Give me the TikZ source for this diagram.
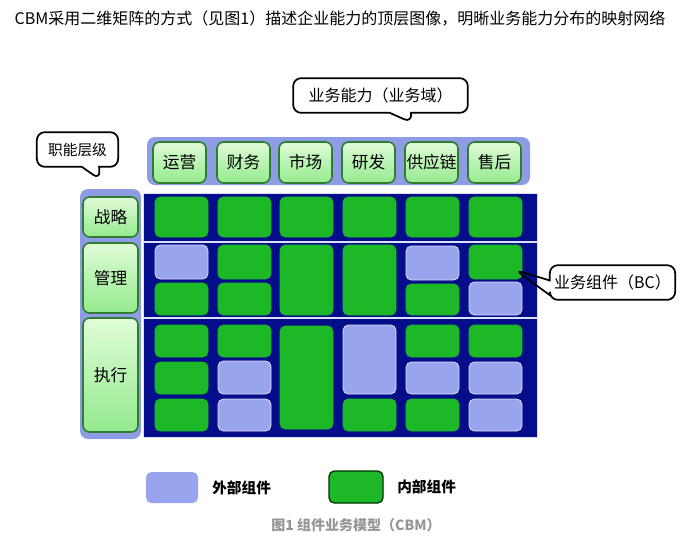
\documentclass[tikz,border=0pt]{standalone}
\usepackage{fontspec}
\setmainfont{Noto Sans CJK SC}
\usepackage{tikz}
\usetikzlibrary{shapes.callouts,positioning}

\definecolor{navy}{RGB}{4,14,138}
\definecolor{ingreen}{RGB}{28,184,40}
\definecolor{outlav}{RGB}{152,164,238}
\definecolor{bandlav}{RGB}{142,156,228}
\definecolor{hdtop}{RGB}{224,252,216}
\definecolor{hdbot}{RGB}{148,234,142}
\definecolor{hdline}{RGB}{46,125,50}
\definecolor{capgray}{RGB}{150,150,150}
\colorlet{ingreenline}{ingreen}
\colorlet{outlavline}{white!65!outlav}

% box from pixel corners: name, options, x1, y1, x2, y2, text
\newcommand{\cellbox}[7]{%
  \pgfmathsetmacro{\cw}{(#5-#3)*0.75}%
  \pgfmathsetmacro{\ch}{(#6-#4)*0.75}%
  \node[#2, minimum width=\cw pt, minimum height=\ch pt] (#1) at ({(#3+#5)/2},{(#4+#6)/2}) {#7};%
}

\begin{document}
\begin{tikzpicture}[
    x=0.75pt, y=-0.75pt,
    cell/.style={rectangle, rounded corners=4pt, inner sep=0pt, outer sep=0pt, fill=#1, draw=#1line, line width=0.6pt},
    band/.style={rectangle, rounded corners=6pt, inner sep=0pt, fill=bandlav},
    headbox/.style={rectangle, rounded corners=5pt, inner sep=0pt, draw=hdline, line width=1.2pt, top color=hdtop, bottom color=hdbot, font=\fontsize{12.5}{14}\selectfont},
    callbox/.style={rectangle callout, rounded corners=6pt, draw=black, line width=1.3pt, fill=white, inner sep=0pt, font=\fontsize{12}{14}\selectfont},
    legtext/.style={inner sep=0pt, font=\fontsize{11}{13}\selectfont\bfseries},
    sepline/.style={draw=outlavline, line width=0.8pt}
]
\useasboundingbox (0,0) rectangle (680,540);

% Title
\node[font=\fontsize{12}{14}\selectfont] (title) at (340,19) {CBM采用二维矩阵的方式（见图1）描述企业能力的顶层图像，明晰业务能力分布的映射网络};

% Bands and matrix
\cellbox{headband}{band}{147}{137}{530}{185}{}
\cellbox{rowband}{band}{80}{189}{141}{439}{}
\cellbox{mat}{rectangle, inner sep=0pt, fill=navy, draw=outlavline, line width=0.6pt}{143}{193}{537}{437}{}
\draw[sepline] (143,242) -- (537,242);
\draw[sepline] (143,318) -- (537,318);

% Capability headers
\foreach \x/\t [count=\i] in {153/运营, 217/财务, 279/市场, 342/研发, 405/供应链, 468/售后}
  \cellbox{h\i}{headbox}{\x}{142}{\x+53}{183}{\t};

% Level labels
\cellbox{lvS}{headbox}{83}{197}{138}{237}{战略}
\cellbox{lvM}{headbox}{83}{243}{138}{313}{管理}
\cellbox{lvE}{headbox}{83}{318}{138}{432}{执行}

% Strategy row
\foreach \x [count=\i] in {155,218,280,343,406,469}
  \cellbox{s\i}{cell=ingreen}{\x}{197}{\x+53}{237}{};

% Management and execution rows
\foreach \n/\c/\xa/\ya/\xb/\yb in {
    m1a/outlav/155/245/208/279, m1b/ingreen/155/283/208/315,
    m2a/ingreen/218/245/271/279, m2b/ingreen/218/283/271/315,
    m3/ingreen/280/245/333/315, m4/ingreen/343/245/396/315,
    m5a/outlav/406/246/459/280, m5b/ingreen/406/284/459/315,
    m6a/ingreen/469/245/522/279, m6b/outlav/469/282/522/315,
    e1a/ingreen/155/325/208/357, e1b/ingreen/155/362/208/394, e1c/ingreen/155/399/208/431,
    e2a/ingreen/218/325/271/357, e2b/outlav/218/361/271/394, e2c/outlav/218/399/271/431,
    e3/ingreen/280/326/333/429,
    e4a/outlav/343/325/396/394, e4b/ingreen/343/399/396/431,
    e5a/ingreen/406/325/459/357, e5b/outlav/406/362/459/394, e5c/ingreen/406/399/459/431,
    e6a/ingreen/469/325/522/357, e6b/outlav/469/362/522/394, e6c/outlav/469/399/522/431}
  \cellbox{\n}{cell=\c}{\xa}{\ya}{\xb}{\yb}{};

% Callouts
\node[callbox, minimum width=131pt, minimum height=26pt, callout pointer width=16pt,
  callout absolute pointer={([xshift=-15pt,yshift=14pt]h5.north)}] (domain) at (380.5,95.5) {业务能力（业务域）};
\node[callbox, minimum width=61pt, minimum height=26pt, callout pointer width=13pt,
  font=\fontsize{11}{13}\selectfont,
  callout absolute pointer={([xshift=-8pt,yshift=7pt]rowband.north)}] (level) at (77.5,149.5) {职能层级};
\node[callbox, fill=none, minimum width=94pt, minimum height=26pt, callout pointer width=11pt,
  callout absolute pointer={([xshift=-5pt,yshift=-6pt]m6a.east)}] (bc) at (612.5,282.5) {业务组件（BC）};

% Legend
\cellbox{legout}{cell=outlav, draw=none}{146}{472}{198}{503}{}
\node[legtext, right=10.5pt of legout] (legouttext) {外部组件};
\cellbox{legin}{cell=ingreen, draw=black!80!green, line width=1pt}{329}{471}{383}{503}{}
\node[legtext, right=10.5pt of legin] (legintext) {内部组件};

% Caption
\node[font=\fontsize{10.5}{12}\selectfont\bfseries, text=capgray] (cap) at (356,525) {图1 组件业务模型（CBM）};

\end{tikzpicture}
\end{document}
